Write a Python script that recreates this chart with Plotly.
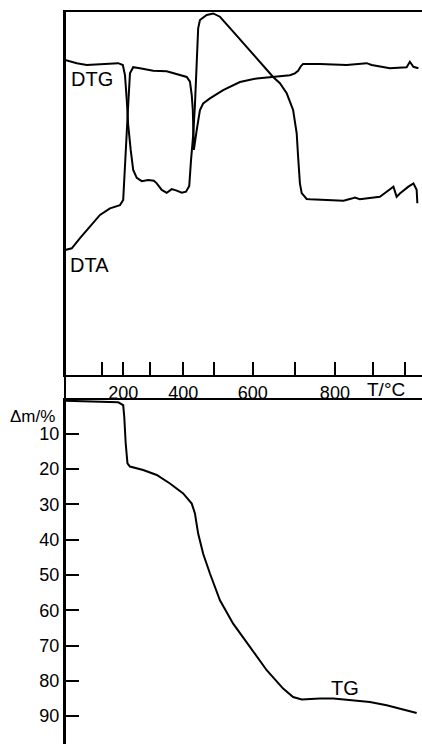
import plotly.graph_objects as go

# x axis: recording position (arbitrary time units, 0-100); temperature scale is non-linear
# ---- DTG curve (top panel, arbitrary units) ----
dtg_t = [0, 3.3, 6.1, 9.8, 14.9, 16.2, 16.8, 17.3, 17.7, 18.4, 19.1, 20.1, 21.5, 23.3, 24.9,
         25.7, 27.1, 28.5, 29.9, 31.3, 32.7, 33.9, 34.8, 35.3, 35.9, 36.4, 36.9, 37.3, 37.8,
         39.7, 41.5, 43.4, 47.1, 50.9, 54.6, 58.3, 60.2, 62.1, 63.9, 64.9, 65.3, 65.8, 66.3,
         67.7, 68.6, 73.3, 78.0, 80.3, 81.2, 82.6, 88.2, 90.1, 92.0, 92.9, 93.8, 96.2, 97.6,
         98.5, 98.7]
dtg_v = [86.8, 85.9, 85.4, 85.6, 85.9, 85.4, 82.6, 75.8, 68.9, 62.0, 56.5, 54.3, 53.4, 53.7, 53.5,
         52.8, 51.0, 50.2, 51.2, 50.8, 50.2, 50.5, 52.1, 59.2, 66.0, 74.4, 88.1, 95.5, 97.8,
         99.2, 99.6, 98.7, 94.6, 90.4, 86.3, 82.1, 80.4, 77.6, 73.0, 66.6, 60.1, 52.8, 50.1,
         48.5, 48.4, 48.2, 48.0, 48.6, 48.9, 48.4, 49.1, 50.5, 51.9, 49.1, 50.0, 51.9, 52.8,
         51.0, 47.3]

# ---- DTA curve (top panel, arbitrary units) ----
dta_t = [0, 1.9, 4.2, 7.0, 9.8, 12.6, 15.4, 16.3, 16.8, 17.3, 17.7, 18.2, 19.1, 21.0, 24.7,
         28.5, 31.3, 34.1, 35.0, 35.5, 35.8, 35.9, 36.1, 36.9, 37.8, 38.7, 40.6, 44.3, 49.0,
         53.7, 58.3, 63.0, 64.4, 65.3, 66.1, 66.7, 71.4, 78.9, 84.5, 85.9, 91.0, 95.7, 96.6,
         97.6, 99.0]
dta_v = [34.4, 34.9, 37.7, 40.9, 44.1, 45.9, 46.8, 48.2, 56.5, 64.7, 74.4, 83.1, 84.8, 84.5, 83.8,
         83.7, 82.9, 82.1, 80.8, 77.1, 73.0, 67.5, 62.0, 67.5, 73.0, 74.8, 76.2, 78.5, 80.7,
         81.7, 82.2, 82.6, 83.1, 83.8, 85.1, 85.7, 85.7, 85.4, 85.9, 85.4, 84.5, 84.8, 86.3,
         84.9, 84.5]

# ---- TG curve (bottom panel, mass loss %) ----
tg_t = [0, 9.8, 14.9, 16.3, 16.6, 17.0, 17.5, 18.2, 21.9, 25.7, 29.4, 33.1, 35.5, 36.4, 37.3,
        38.7, 40.6, 43.4, 47.1, 51.8, 56.5, 61.1, 63.9, 66.3, 71.4, 75.2, 79.8, 85.4, 90.1,
        94.8, 98.5]
tg_v = [0.65, 0.82, 1.1, 1.9, 5.2, 12.7, 18.4, 19.3, 20.3, 21.7, 24.1, 26.9, 29.8, 32.6, 38.3,
        44.0, 49.6, 57.2, 63.8, 70.4, 77.0, 82.2, 84.6, 85.3, 85.0, 85.0, 85.5, 86.0, 86.9,
        88.2, 89.1]

# ---- temperature ticks (non-linear position on the recording axis) ----
temp_tick_pos = [10.3, 16.3, 23.8, 33.1, 41.7, 52.6, 64.3, 75.6, 86.2, 95.2]
temp_tick_vals = [100, 200, 300, 400, 500, 600, 700, 800, 900, 1000]
temp_tick_text = [str(v) if v in (200, 400, 600, 800) else "" for v in temp_tick_vals]

dm_ticks = [10, 20, 30, 40, 50, 60, 70, 80, 90]

FONT = "Liberation Sans, Arial, sans-serif"
LW = 2

fig = go.Figure()
fig.add_trace(go.Scatter(x=dtg_t, y=dtg_v, mode="lines", line=dict(color="black", width=LW),
                         xaxis="x", yaxis="y", showlegend=False, hoverinfo="skip"))
fig.add_trace(go.Scatter(x=dta_t, y=dta_v, mode="lines", line=dict(color="black", width=LW),
                         xaxis="x", yaxis="y", showlegend=False, hoverinfo="skip"))
fig.add_trace(go.Scatter(x=tg_t, y=tg_v, mode="lines", line=dict(color="black", width=LW),
                         xaxis="x2", yaxis="y2", showlegend=False, hoverinfo="skip"))

xl = 65 / 422
fig.update_layout(
    width=422, height=744,
    margin=dict(l=0, r=0, t=0, b=0),
    paper_bgcolor="white", plot_bgcolor="white",
    font=dict(family=FONT, color="black", size=16),
    xaxis=dict(domain=[xl, 1], range=[0, 100], anchor="y",
               showline=True, linecolor="black", linewidth=LW, mirror=True,
               ticks="inside", ticklen=13, tickwidth=LW, tickcolor="black",
               tickvals=temp_tick_pos, ticktext=temp_tick_text,
               tickfont=dict(size=18), showgrid=False, zeroline=False),
    yaxis=dict(domain=[369 / 744, 732 / 744], range=[0, 100], anchor="x",
               showline=True, linecolor="black", linewidth=LW,
               showticklabels=False, ticks="", showgrid=False, zeroline=False),
    xaxis2=dict(domain=[xl, 1], range=[0, 100], anchor="y2", side="top",
                showline=True, linecolor="black", linewidth=LW,
                showticklabels=False, ticks="", showgrid=False, zeroline=False),
    yaxis2=dict(domain=[0, 344 / 744], range=[97.9, 0.45], anchor="x2",
                showline=True, linecolor="black", linewidth=LW,
                ticks="inside", ticklen=14, tickwidth=LW, tickcolor="black",
                tickvals=dm_ticks, tickfont=dict(size=18),
                showgrid=False, zeroline=False),
    shapes=[dict(type="line", xref="paper", yref="paper", x0=xl, x1=xl,
                 y0=0, y1=732 / 744, line=dict(color="black", width=LW))],
    annotations=[
        dict(text="DTG", xref="x", yref="y", x=1.2, y=81.5, xanchor="left", yanchor="middle",
             showarrow=False, font=dict(size=20)),
        dict(text="DTA", xref="x", yref="y", x=0.7, y=30.3, xanchor="left", yanchor="middle",
             showarrow=False, font=dict(size=20)),
        dict(text="TG", xref="x2", yref="y2", x=78.5, y=81.9, xanchor="center", yanchor="middle",
             showarrow=False, font=dict(size=20)),
        dict(text="T/°C", xref="x", yref="paper", x=89.9, y=355 / 744, xanchor="center",
             yanchor="middle", showarrow=False, font=dict(size=19)),
        dict(text="Δm/%", xref="paper", yref="y2", x=57 / 422, y=5.2, xanchor="right",
             yanchor="middle", showarrow=False, font=dict(size=17)),
    ],
)

fig.write_html(
    "out.html",
    config={"displayModeBar": False, "staticPlot": True},
    post_script="document.body.style.margin='0px';document.body.style.overflow='hidden';",
)
